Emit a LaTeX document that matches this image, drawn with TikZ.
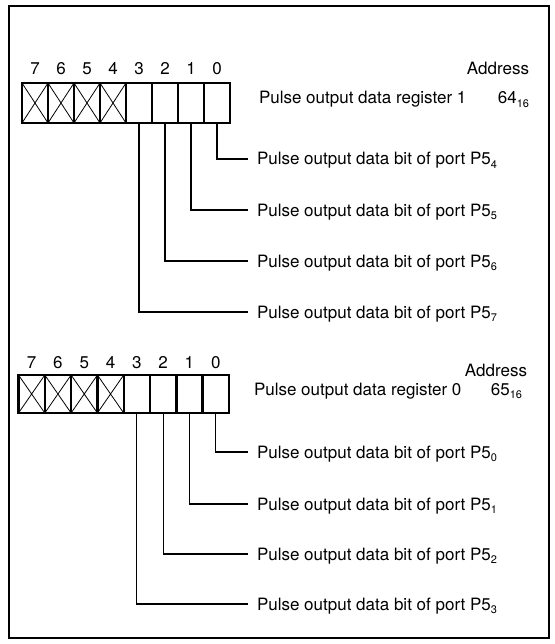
\documentclass[tikz,border=0pt]{standalone}
\usepackage{fontspec}
\setmainfont{TeX Gyre Heros}
\newcommand\subsc[1]{\raisebox{-0.22em}{\fontsize{11}{12}\selectfont #1}}
\begin{document}
\begin{tikzpicture}[x=1pt,y=-1pt,
  every node/.style={font=\fontsize{17}{20}\selectfont, inner sep=0pt, outer sep=0pt},
  cellA/.style={draw, line width=2.4pt, minimum width=26pt, minimum height=40pt, anchor=north west},
  cellB/.style={draw, line width=2.4pt, minimum width=26.3pt, minimum height=38pt, anchor=north west},
  cross/.style={line width=0.8pt},
  conn/.style={line width=1.1pt},
  lbl/.style={anchor=base west},
  frame/.style={line width=2.5pt}]
\useasboundingbox (0,0) rectangle (554,644);
\draw[frame] (9,6) rectangle (549,638);

% Register 1
\foreach \b in {7,...,0} {
  \pgfmathsetmacro\xx{22+(7-\b)*26}
  \node[cellA] (r1c\b) at (\xx,83) {};
  \node[anchor=base] (l1\b) at (\xx+13,75) {\b};
}
\foreach \b in {7,6,5,4} {
  \draw[cross] (r1c\b.north west) -- (r1c\b.south east) (r1c\b.north east) -- (r1c\b.south west);
}
\node[anchor=base east] (adr1) at (529,75) {Address};
\node[anchor=base west] (reg1) at (259,104) {Pulse output data register 1};
\node[anchor=base east] (val1) at (529,104) {64\subsc{16}};
\foreach \b/\y/\p in {0/159/4,1/210/5,2/261/6,3/312/7} {
  \coordinate (e1\b) at (248,\y);
  \draw[conn] (r1c\b.south) |- (e1\b);
  \node[lbl] (t1\b) at (257,\y+6) {Pulse output data bit of port P5\subsc{\p}};
}

% Register 0
\foreach \b in {7,...,0} {
  \pgfmathsetmacro\xx{18.5+(7-\b)*26.3}
  \node[cellB] (r0c\b) at (\xx,375) {};
  \node[anchor=base] (l0\b) at (\xx+13.15,368) {\b};
}
\foreach \b in {7,6,5,4} {
  \draw[cross] (r0c\b.north west) -- (r0c\b.south east) (r0c\b.north east) -- (r0c\b.south west);
}
\node[anchor=base east] (adr0) at (527,376) {Address};
\node[anchor=base west] (reg0) at (254,395) {Pulse output data register 0};
\node[anchor=base east] (val0) at (522,395) {65\subsc{16}};
\foreach \b/\y/\p in {0/452/0,1/504/1,2/554/2,3/604/3} {
  \coordinate (e0\b) at (248,\y);
  \draw[conn] (r0c\b.south) |- (e0\b);
  \node[lbl] (t0\b) at (257,\y+6) {Pulse output data bit of port P5\subsc{\p}};
}
\end{tikzpicture}
\end{document}
